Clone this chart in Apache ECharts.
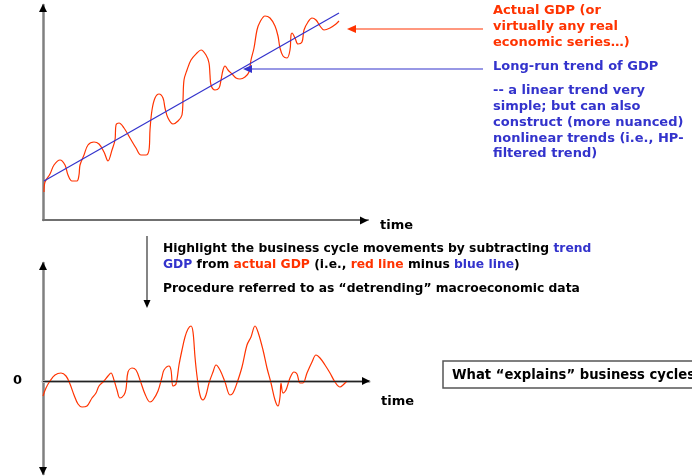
<!DOCTYPE html>
<html>
<head>
<meta charset="utf-8">
<script src="https://cdn.jsdelivr.net/npm/echarts@6/dist/echarts.min.js"></script>
<style>
  html, body { margin: 0; padding: 0; background: #fff; }
  #chart { width: 692px; height: 476px; }
</style>
</head>
<body>
<div id="chart"></div>
<script>
// 实际GDP（时间, 水平）
var actualGdp = [
  [1,28],[2,38],[7,46],[11,55],[17,60],[22,55],[25,45],[29,39],[34,39],[36,45],
  [37,55],[41,65],[45,75],[51,78],[56,76],[61,68],[65,59],[69,70],[72,80],[73,95],
  [76,97],[81,92],[87,82],[93,72],[98,65],[103,65],[106,70],[107,90],[109,110],[112,122],
  [116,126],[120,122],[122,112],[125,102],[130,96],[135,99],[139,105],[140,120],[141,140],[144,150],
  [148,160],[154,167],[158,170],[163,165],[166,157],[167,145],[168,135],[172,130],[176,132],[178,140],
  [180,150],[182,154],[185,150],[189,146],[193,142],[197,141],[202,143],[206,148],[208,160],[211,172],
  [214,190],[217,198],[222,204],[227,202],[232,194],[235,184],[237,172],[240,164],[244,162],[247,170],
  [248,185],[249,187],[252,182],[255,176],[259,178],[261,190],[265,198],[269,202],[273,200],[277,194],
  [281,190],[287,192],[293,196],[296,199]
];
// 线性趋势
var trendGdp = [[1,39],[296,207]];
// 去趋势后的周期成分
var cycle = [
  [0,-15],[3,-7],[7,0],[12,6],[18,8],[23,5],[27,-3],[31,-14],[35,-23],[39,-26],
  [44,-25],[49,-17],[53,-12],[56,-5],[61,0],[65,5],[68,8],[71,1],[74,-9],[77,-17],
  [81,-14],[83,-8],[85,9],[89,13],[93,11],[97,1],[102,-13],[107,-21],[110,-19],[115,-10],
  [119,4],[121,11],[126,15],[128,11],[130,-5],[133,-3],[136,16],[139,31],[142,44],[145,52],
  [148,55],[150,49],[152,24],[154,5],[157,-14],[160,-19],[163,-14],[166,-2],[170,9],[173,16],
  [177,11],[182,-1],[187,-14],[190,-12],[194,-2],[199,14],[204,36],[208,44],[212,55],[215,49],
  [220,31],[224,13],[228,-2],[232,-19],[235,-25],[237,-16],[238,-2],[240,-12],[243,-9],[247,3],
  [251,9],[254,7],[257,-2],[260,-2],[264,8],[269,19],[273,26],[277,23],[282,16],[287,8],
  [292,-1],[297,-6],[300,-4],[304,0]
];

var redNote = ["Actual GDP (or", "virtually any real", "economic series…)"];
var blueTitle = "Long-run trend of GDP";
var blueNote = ["-- a linear trend very", "simple; but can also",
  "construct (more nuanced)", "nonlinear trends (i.e., HP-", "filtered trend)"];

var RED = "#ff3300", BLUE = "#3333cc";
var FONT = '"DejaVu Sans", Verdana, sans-serif';

var myChart = echarts.init(document.getElementById("chart"));

function txt(s, x, y, size, color, extra) {
  var st = { text: s, x: x, y: y, font: "bold " + size + "px " + FONT, fill: color, verticalAlign: "middle" };
  if (extra) { for (var k in extra) st[k] = extra[k]; }
  return { type: "text", z: 10, style: st };
}
function tri(points, color) {
  return { type: "polygon", z: 10, shape: { points: points }, style: { fill: color || "#000" } };
}
function seg(x1, y1, x2, y2, color, w) {
  return { type: "line", z: 9, shape: { x1: x1, y1: y1, x2: x2, y2: y2 }, style: { stroke: color, lineWidth: w || 1 } };
}

var graphics = [];
// 注释框
graphics.push({ type: "rect", z: 8, shape: { x: 443, y: 361, width: 270, height: 27 },
  style: { fill: "#fff", stroke: "#555", lineWidth: 1.5 } });
graphics.push(txt("What “explains” business cycles?", 452, 375.5, 13.2, "#000"));

// 箭头
graphics.push(seg(483, 29, 352, 29, RED, 1.2));
graphics.push(tri([[347, 29], [356, 25], [356, 33]], RED));
graphics.push(seg(483, 69, 248, 69, BLUE, 1.2));
graphics.push(tri([[243, 69], [252, 65], [252, 73]], BLUE));
graphics.push(seg(147, 236, 147, 302, "#333", 1.2));
graphics.push(tri([[147, 308], [143.5, 300], [150.5, 300]], "#000"));

// 坐标轴箭头
graphics.push(tri([[43, 4], [39, 12], [47, 12]]));
graphics.push(tri([[368, 220.5], [360, 216.5], [360, 224.5]]));
graphics.push(tri([[43, 262], [39, 270], [47, 270]]));
graphics.push(tri([[43, 475], [39, 467], [47, 467]]));
graphics.push(tri([[370, 381], [362, 377], [362, 385]]));

// 文本
redNote.forEach(function (s, i) { graphics.push(txt(s, 493, 11 + i * 15.6, 13, RED)); });
graphics.push(txt(blueTitle, 493, 67, 13, BLUE));
blueNote.forEach(function (s, i) { graphics.push(txt(s, 493, 91 + i * 15.75, 13, BLUE)); });
graphics.push(txt("time", 380, 226, 13, "#000"));
graphics.push(txt("time", 381, 402, 13, "#000"));
graphics.push(txt("0", 13, 381, 13, "#000"));

var rich = { b: { fill: BLUE, font: "bold 12.3px " + FONT }, r: { fill: RED, font: "bold 12.3px " + FONT } };
graphics.push(txt("Highlight the business cycle movements by subtracting {b|trend}", 163, 249, 12.3, "#000", { rich: rich }));
graphics.push(txt("{b|GDP} from {r|actual GDP} (i.e., {r|red line} minus {b|blue line})", 163, 265, 12.3, "#000", { rich: rich }));
graphics.push(txt("Procedure referred to as “detrending” macroeconomic data", 163, 289, 12.3, "#000"));

var hidden = { axisTick: { show: false }, axisLabel: { show: false }, splitLine: { show: false } };
function ax(extra) { var o = { type: "value" }; for (var k in hidden) o[k] = hidden[k]; for (var j in extra) o[j] = extra[j]; return o; }

var option = {
  animation: false,
  grid: [
    { left: 43, top: 5, width: 325, height: 215 },
    { left: 43, top: 263, width: 326, height: 211 }
  ],
  xAxis: [
    ax({ gridIndex: 0, min: 0, max: 325, axisLine: { lineStyle: { color: "#707070", width: 2 } } }),
    ax({ gridIndex: 1, min: 0, max: 326, axisLine: { onZero: true, lineStyle: { color: "#aaa", width: 3 } } })
  ],
  yAxis: [
    ax({ gridIndex: 0, min: 0, max: 215, axisLine: { lineStyle: { color: "#808080", width: 2.5 } } }),
    ax({ gridIndex: 1, min: -93, max: 118, axisLine: { lineStyle: { color: "#808080", width: 2.5 } } })
  ],
  series: [
    {
      name: "Actual GDP", type: "line", xAxisIndex: 0, yAxisIndex: 0, data: actualGdp,
      smooth: 0.35, showSymbol: false, lineStyle: { color: RED, width: 1.2 }, z: 3
    },
    {
      name: "Trend", type: "line", xAxisIndex: 0, yAxisIndex: 0, data: trendGdp,
      showSymbol: false, lineStyle: { color: BLUE, width: 1.2 }, z: 4
    },
    {
      name: "Cycle", type: "line", xAxisIndex: 1, yAxisIndex: 1, data: cycle,
      smooth: 0.35, showSymbol: false, lineStyle: { color: RED, width: 1.2 }, z: 4,
      markLine: {
        silent: true, symbol: "none", label: { show: false },
        lineStyle: { color: "#222", width: 1, type: "solid" },
        data: [{ yAxis: 0 }]
      }
    }
  ],
  graphic: graphics
};

myChart.setOption(option);
window.addEventListener("resize", function () { myChart.resize(); });
</script>
</body>
</html>
